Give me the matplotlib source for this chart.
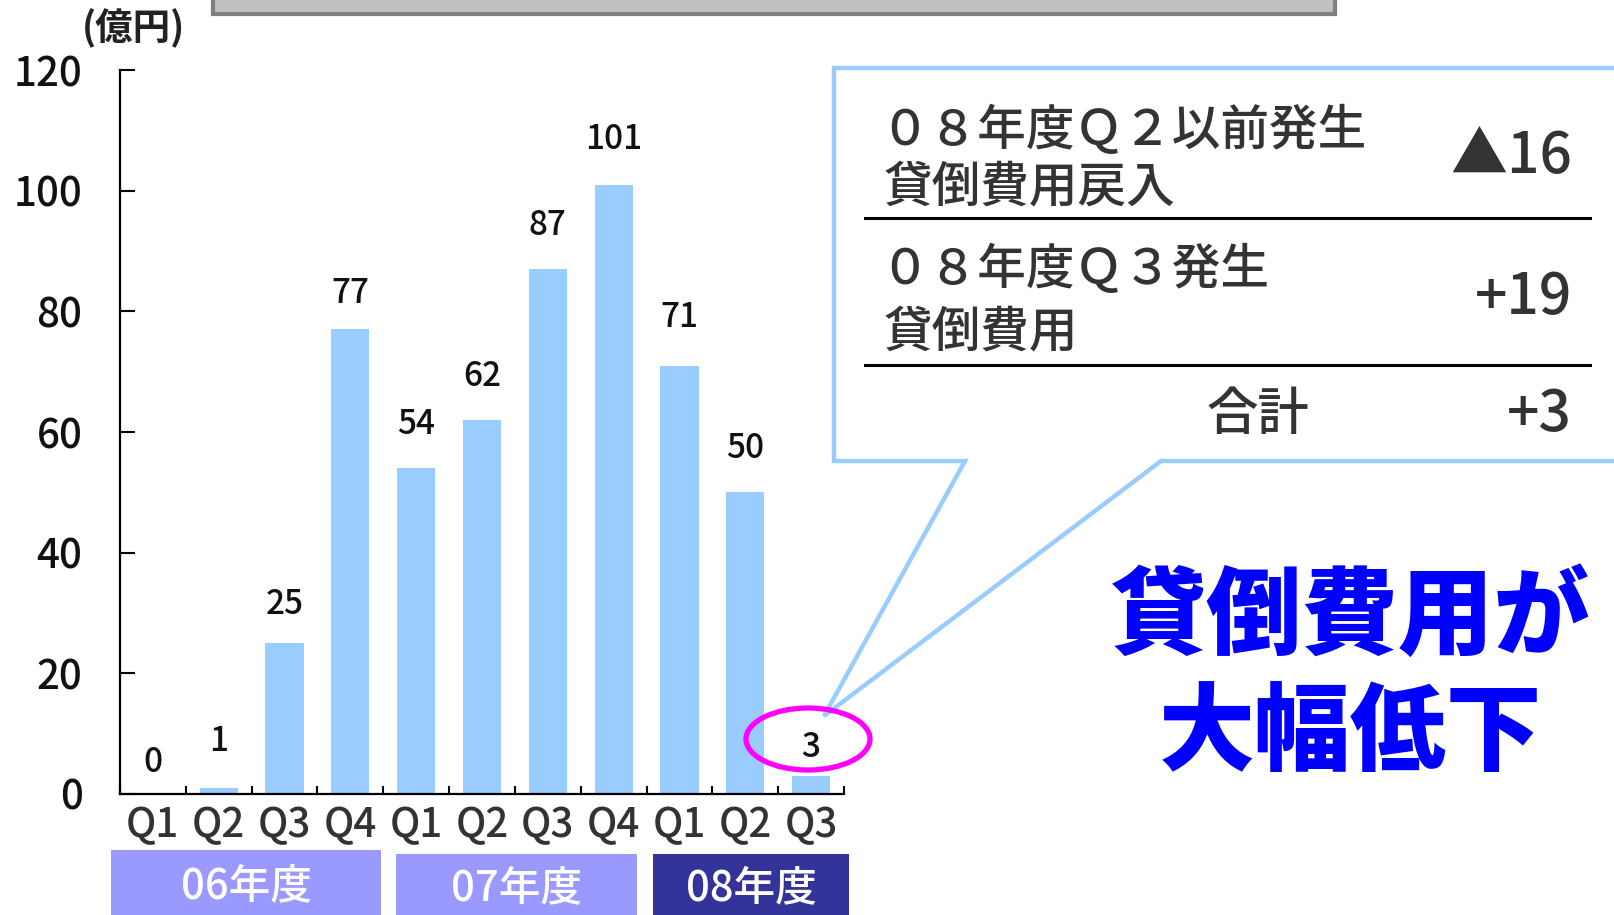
import matplotlib
matplotlib.use("Agg")
import matplotlib.pyplot as plt
from matplotlib.patches import Polygon, Rectangle, Ellipse
from matplotlib.lines import Line2D

plt.rcParams['font.family'] = ['Noto Sans CJK JP', 'DejaVu Sans']
plt.rcParams['font.weight'] = 'medium'

# ---- data ----
quarters = ["Q1", "Q2", "Q3", "Q4", "Q1", "Q2", "Q3", "Q4", "Q1", "Q2", "Q3"]
values = [0, 1, 25, 77, 54, 62, 87, 101, 71, 50, 3]
yticks = [0, 20, 40, 60, 80, 100, 120]
fiscal_years = ["06年度", "07年度", "08年度"]
table_rows = [
    ("０８年度Ｑ２以前発生\n貸倒費用戻入", "▲16"),
    ("０８年度Ｑ３発生\n貸倒費用", "+19"),
]
total_label = "合計"
total_value = "+3"
unit_label = "(億円)"
headline = "貸倒費用が\n大幅低下"

# ---- layout ----
W, H = 1614, 915
label_offsets = [31, 46, 39, 36, 44, 43, 44, 45, 48, 44, 28]  # pixels above bar top

fig = plt.figure(figsize=(W / 100, H / 100), dpi=100)
fig.patch.set_facecolor("white")

def fx(x):
    return x / W

def fy(y):
    return 1 - y / H

ax_left, ax_right, ax_top, ax_bot = 120, 844, 70, 794
ax = fig.add_axes([fx(ax_left), fy(ax_bot), (ax_right - ax_left) / W, (ax_bot - ax_top) / H])
x = list(range(len(values)))
ax.bar(x, values, width=0.58, color="#99CCFF", zorder=2)
ax.set_xlim(-0.5, len(values) - 0.5)
ax.set_ylim(0, 120)
for i, v in enumerate(values):
    ax.annotate(str(v), (i, v), xytext=(0, label_offsets[i]), textcoords="offset pixels",
                ha="center", va="center", fontsize=24, color="#111111")

for s in ["top", "right"]:
    ax.spines[s].set_visible(False)
for s in ["left", "bottom"]:
    ax.spines[s].set_linewidth(1.6)
    ax.spines[s].set_color("black")

ax.set_yticks(yticks)
ax.set_yticklabels([str(t) for t in yticks], fontsize=29, color="#111111")
ax.tick_params(axis="y", direction="in", length=11, width=1.5, pad=27)
ax.set_xticks(x)
ax.set_xticklabels(quarters, fontsize=29, color="#333333")
ax.tick_params(axis="x", which="major", length=0, pad=8)
ax.set_xticks([i - 0.5 for i in range(len(values) + 1)], minor=True)
ax.tick_params(axis="x", which="minor", direction="in", length=6, width=1.5)

# unit label
fig.text(fx(134), fy(28), unit_label, ha="center", va="center", fontsize=27,
         fontweight="bold", color="#222222")

# top grey box (cut off)
fig.patches.append(Rectangle((fx(213), fy(14)), (1335 - 213) / W, 30 / H,
                             transform=fig.transFigure, facecolor="#C0C0C0",
                             edgecolor="#808080", linewidth=3))

# fiscal year boxes
fy_boxes = [(111, 850, 381, 915, "#9999FF"), (396, 854, 637, 915, "#9999FF"),
            (653, 854, 849, 915, "#333399")]
for (x0, y0, x1, y1, c), lab in zip(fy_boxes, fiscal_years):
    fig.patches.append(Rectangle((fx(x0), fy(y1)), (x1 - x0) / W, (y1 - y0) / H,
                                 transform=fig.transFigure, facecolor=c, edgecolor="none"))
    fig.text(fx((x0 + x1) / 2), fy((y0 + y1) / 2 + 3), lab, ha="center", va="center",
             fontsize=30, color="white")

# callout
pts = [(834, 68), (1640, 68), (1640, 461), (1161, 461), (824, 716), (965, 461), (834, 461)]
fig.patches.append(Polygon([(fx(a), fy(b)) for a, b in pts], closed=True,
                           transform=fig.transFigure, facecolor="white",
                           edgecolor="#99CCFF", linewidth=3.2, zorder=5))

# table
for yl in [218, 365]:
    fig.add_artist(Line2D([fx(865), fx(1590)], [fy(yl), fy(yl)], color="black",
                          linewidth=2.2, transform=fig.transFigure, zorder=6))
row_y = [(131, 187, 157), (270, 332, 298)]
for (lab, val), (y1, y2, yv) in zip(table_rows, row_y):
    l1, l2 = lab.split("\n")
    fig.text(fx(880), fy(y1), l1, ha="left", va="center", fontsize=35, color="#333333", zorder=7)
    fig.text(fx(884), fy(y2), l2, ha="left", va="center", fontsize=35, color="#333333", zorder=7)
    fig.text(fx(1572), fy(yv), val, ha="right", va="center", fontsize=41, color="#333333", zorder=7)
fig.text(fx(1258), fy(415), total_label, ha="center", va="center", fontsize=37,
         color="#333333", zorder=7)
fig.text(fx(1572), fy(415), total_value, ha="right", va="center", fontsize=41,
         color="#333333", zorder=7)

# highlight ellipse
fig.patches.append(Ellipse((fx(808), fy(739)), 124 / W, 62 / H, transform=fig.transFigure,
                           facecolor="none", edgecolor="#FF00FF", linewidth=3.8, zorder=8))

# headline
h1, h2 = headline.split("\n")
fig.text(fx(1351), fy(618), h1, ha="center", va="center", fontsize=69,
         fontweight="heavy", color="#0000FF")
fig.text(fx(1351), fy(734), h2, ha="center", va="center", fontsize=69,
         fontweight="heavy", color="#0000FF")

fig.savefig("out.png", dpi=100)
